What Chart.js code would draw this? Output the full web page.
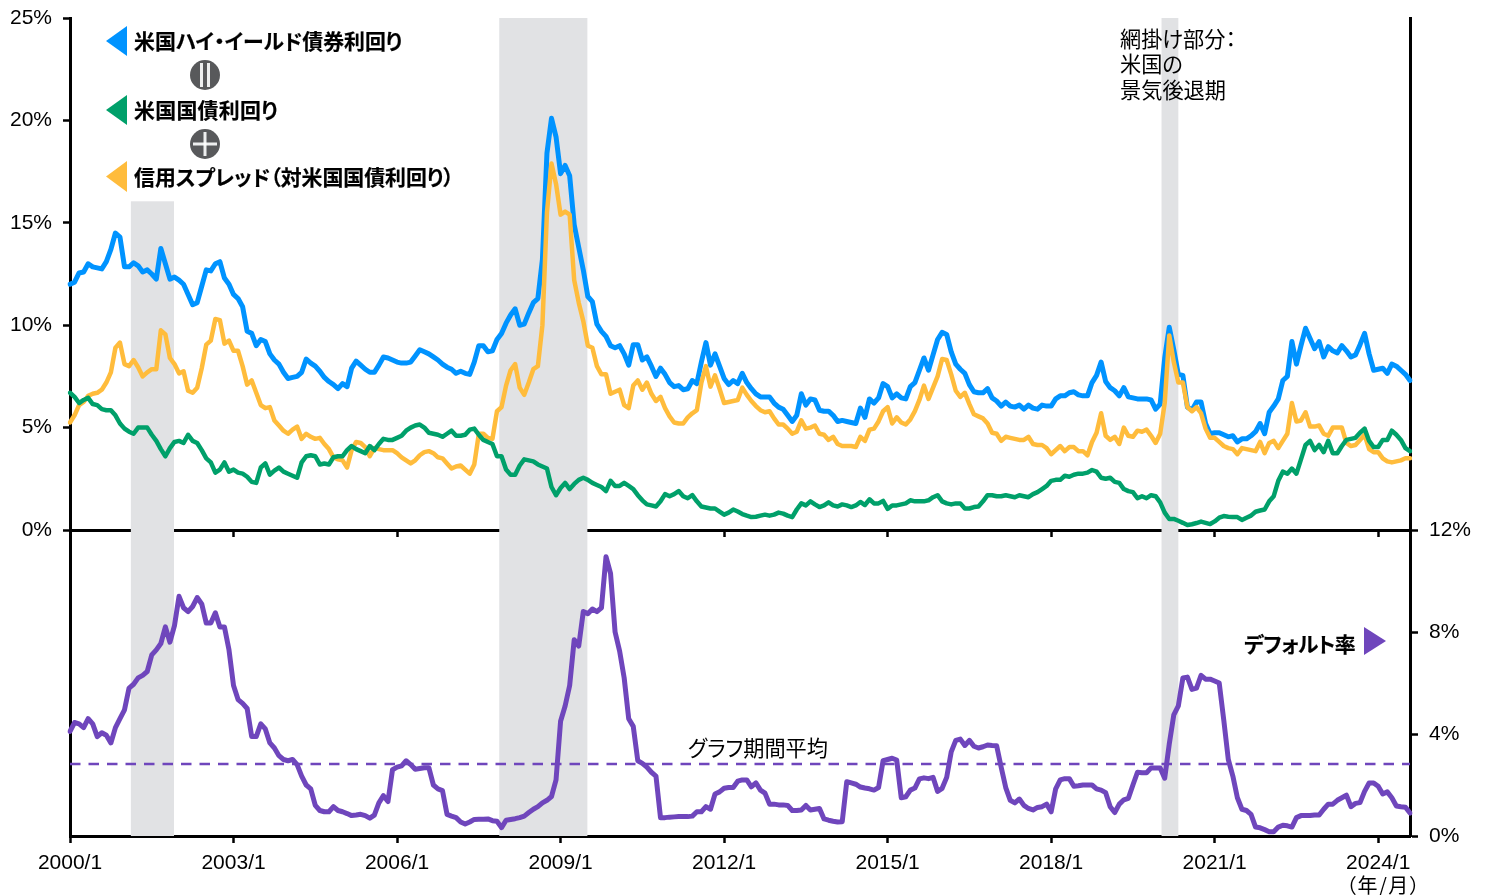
<!DOCTYPE html>
<html lang="ja">
<head>
<meta charset="utf-8">
<title>米国ハイ・イールド債券利回りとデフォルト率</title>
<script src="https://cdn.jsdelivr.net/npm/chart.js@4"></script>
<style>
html,body{margin:0;padding:0;background:#fff;width:1486px;height:895px;overflow:hidden}
canvas{position:absolute;left:0}
#cTop{top:0}
#cBottom{top:510px}
.t{position:absolute;white-space:nowrap;color:#000;font-family:"Noto Sans CJK JP","Liberation Sans",sans-serif;line-height:1;font-feature-settings:"palt"}
.b{font-weight:700;font-size:20.9px;-webkit-text-stroke:.2px #000}
.r{font-weight:400;font-size:21.2px}
svg{position:absolute;left:0;top:0}
</style>
</head>
<body>
<canvas id="cTop" width="1486" height="545"></canvas>
<canvas id="cBottom" width="1486" height="385"></canvas>
<svg width="1486" height="895">
  <polygon points="127,26 127,56 106,41" fill="#0093FF"/>
  <polygon points="127,95 127,125 106,110" fill="#00A06A"/>
  <polygon points="127,161 127,192 106,176.5" fill="#FFBC3C"/>
  <polygon points="1364,627 1364,655 1386,641" fill="#6F46BC"/>
  <circle cx="205" cy="75" r="15" fill="#58595B"/>
  <rect x="200" y="63" width="3" height="24" fill="#fff" opacity=".9"/>
  <rect x="207" y="63" width="3" height="24" fill="#fff" opacity=".9"/>
  <circle cx="205" cy="144" r="15" fill="#58595B"/>
  <rect x="193" y="142.500" width="24" height="3" fill="#fff" opacity=".9"/>
  <rect x="203.500" y="132" width="3" height="24" fill="#fff" opacity=".9"/>
</svg>
<div class="t b" style="left:134px;top:30px">米国ハイ・イールド債券利回り</div>
<div class="t b" style="left:134px;top:99px;letter-spacing:.3px">米国国債利回り</div>
<div class="t b" style="left:134px;top:166px">信用スプレッド（対米国国債利回り）</div>
<div class="t r" style="left:1120px;top:27px">網掛け部分：</div>
<div class="t r" style="left:1120px;top:52px">米国の</div>
<div class="t r" style="left:1120px;top:78px">景気後退期</div>
<div class="t r" style="left:688px;top:736px">グラフ期間平均</div>
<div class="t b" style="left:1244px;top:633px;letter-spacing:-.5px">デフォルト率</div>
<div class="t r" style="left:1346px;top:875px;font-size:20px;letter-spacing:1.5px">（年/月）</div>
<script>
// Monthly categories, 2000/1 to 2024/8
const months = [];
for (let y = 2000; y <= 2024; y++) for (let m = 1; m <= (y === 2024 ? 8 : 12); m++) months.push(y + '/' + m);

const highYield = [
12.0,12.1,12.55,12.6,13.0,12.85,12.8,12.75,13.1,13.7,14.5,14.3,
12.85,12.85,13.05,12.9,12.6,12.7,12.5,12.25,13.75,13.0,12.25,12.35,
12.2,12.0,11.5,11.0,11.1,11.9,12.7,12.65,13.0,13.1,12.3,12.0,
11.5,11.3,10.9,9.7,9.6,9.0,9.3,9.2,8.6,8.3,8.1,7.7,
7.4,7.45,7.5,7.7,8.35,8.15,8.0,7.75,7.45,7.25,7.1,6.9,
7.15,7.0,7.9,8.25,8.05,7.85,7.7,7.7,8.05,8.45,8.4,8.3,
8.2,8.15,8.15,8.2,8.5,8.8,8.7,8.6,8.45,8.3,8.1,7.95,
7.85,7.65,7.75,7.65,7.6,8.2,9.0,9.0,8.7,8.75,9.3,9.6,
10.1,10.5,10.8,10.0,10.05,10.6,11.1,11.3,13.2,18.4,20.1,19.2,
17.4,17.8,17.3,14.9,13.8,12.7,11.4,11.15,10.05,9.7,9.45,9.0,
8.9,9.0,8.6,8.05,9.05,9.05,8.3,8.45,8.0,7.5,7.9,7.6,
7.2,7.0,7.05,6.85,6.9,7.3,7.15,8.2,9.15,8.05,8.6,8.0,
7.4,7.1,7.3,7.15,7.65,7.2,6.9,6.65,6.5,6.5,6.5,6.2,
6.0,5.9,5.6,5.3,5.6,6.65,6.1,6.4,6.35,5.85,5.8,5.8,
5.6,5.3,5.35,5.3,5.25,5.2,5.95,5.5,6.4,6.2,6.45,7.15,
7.0,6.45,6.65,6.45,6.4,7.0,7.2,7.8,8.4,7.8,8.55,9.3,
9.65,9.55,8.7,8.1,7.85,7.65,7.1,6.75,6.7,6.7,6.9,6.45,
6.3,6.05,6.25,6.05,6.0,6.1,5.9,6.1,5.95,5.9,6.1,6.05,
6.05,6.4,6.55,6.55,6.7,6.75,6.6,6.55,6.55,7.2,7.55,8.2,
7.25,6.95,6.8,6.55,6.95,6.5,6.45,6.4,6.4,6.4,6.35,5.9,
6.15,8.4,9.9,8.8,7.6,7.55,6.0,5.85,6.25,6.25,5.2,4.7,
4.75,4.75,4.65,4.55,4.6,4.3,4.45,4.45,4.6,4.8,5.2,4.7,
5.75,6.05,6.4,7.3,7.5,9.2,8.1,9.0,9.85,9.35,8.85,9.2,
8.45,8.95,8.75,8.65,9.0,8.75,8.45,8.55,9.05,9.6,8.6,7.8,
7.85,7.9,7.65,8.1,8.0,7.8,7.6,7.3
];

const treasury = [
6.7,6.5,6.2,6.35,6.45,6.15,6.1,5.9,5.85,5.85,5.6,5.2,
4.95,4.8,4.7,5.0,5.0,5.0,4.65,4.35,3.95,3.6,4.0,4.3,
4.35,4.25,4.65,4.35,4.25,3.9,3.5,3.3,2.8,2.95,3.3,2.85,
2.95,2.8,2.75,2.6,2.35,2.3,3.05,3.25,2.7,2.9,3.05,2.85,
2.75,2.65,2.55,3.3,3.6,3.65,3.6,3.2,3.25,3.2,3.55,3.6,
3.6,3.9,4.1,3.95,3.85,3.75,4.1,3.9,4.2,4.45,4.4,4.4,
4.5,4.6,4.85,5.0,5.1,5.15,5.0,4.75,4.7,4.65,4.55,4.7,
4.85,4.6,4.6,4.65,4.9,4.95,4.65,4.4,4.3,4.2,3.6,3.6,
2.95,2.7,2.7,3.15,3.45,3.4,3.35,3.2,3.1,3.0,2.1,1.7,
2.05,2.3,2.0,2.25,2.45,2.55,2.45,2.3,2.2,2.1,1.9,2.4,
2.15,2.15,2.3,2.15,2.0,1.7,1.45,1.25,1.2,1.15,1.4,1.75,
1.65,1.75,1.9,1.65,1.55,1.7,1.4,1.15,1.1,1.05,1.05,0.9,
0.75,0.85,1.0,0.9,0.78,0.7,0.63,0.65,0.7,0.75,0.7,0.75,
0.85,0.8,0.7,0.63,1.0,1.3,1.2,1.4,1.25,1.12,1.2,1.35,
1.2,1.15,1.25,1.2,1.12,1.2,1.37,1.22,1.5,1.3,1.3,1.42,
1.03,1.2,1.2,1.25,1.3,1.45,1.4,1.4,1.4,1.45,1.6,1.7,
1.4,1.3,1.25,1.3,1.3,1.05,1.05,1.12,1.15,1.4,1.7,1.7,
1.65,1.65,1.7,1.65,1.6,1.7,1.65,1.6,1.75,1.85,2.0,2.15,
2.4,2.45,2.45,2.65,2.6,2.7,2.75,2.75,2.8,2.93,2.85,2.55,
2.5,2.55,2.35,2.3,2.0,1.9,1.85,1.55,1.65,1.55,1.7,1.65,
1.35,0.85,0.54,0.54,0.45,0.35,0.24,0.28,0.34,0.41,0.35,0.29,
0.42,0.6,0.68,0.65,0.63,0.63,0.49,0.6,0.7,0.89,0.95,1.0,
1.4,1.65,2.4,2.85,2.75,3.0,2.75,3.45,4.15,4.35,3.9,4.15,
3.8,4.35,3.75,3.75,4.1,4.4,4.45,4.5,4.75,4.95,4.35,4.05,
4.05,4.4,4.4,4.85,4.65,4.4,4.0,3.85
];

const creditSpread = [
5.25,5.6,6.1,6.25,6.55,6.65,6.7,6.85,7.2,7.7,8.9,9.15,
8.1,8.0,8.3,7.95,7.5,7.7,7.85,7.85,9.75,9.55,8.4,8.1,
7.65,7.75,6.8,6.7,6.95,7.9,9.05,9.25,10.3,10.25,9.1,9.25,
8.75,8.75,8.0,7.1,7.3,6.7,6.1,5.95,6.0,5.35,5.1,4.85,
4.7,4.9,5.05,4.45,4.7,4.55,4.45,4.5,4.2,3.95,3.55,3.45,
3.4,3.05,3.9,4.3,4.25,4.05,3.6,4.0,3.95,3.9,3.9,3.9,
3.75,3.55,3.4,3.25,3.4,3.65,3.8,3.85,3.75,3.55,3.5,3.25,
3.0,3.1,3.15,2.95,2.75,3.2,4.7,4.7,4.5,4.45,5.8,6.0,
7.05,7.8,8.1,6.95,6.6,7.2,7.85,8.0,10.0,15.5,17.9,16.9,
15.4,15.55,15.4,12.2,11.1,10.2,9.0,8.9,8.0,7.6,7.6,6.65,
6.75,6.85,6.1,5.95,7.05,7.3,6.85,7.2,6.65,6.3,6.5,5.95,
5.55,5.25,5.2,5.2,5.5,5.7,5.85,7.2,8.0,7.0,7.55,6.9,
6.2,6.25,6.3,6.35,6.95,6.6,6.3,6.05,5.85,5.75,5.8,5.45,
5.15,5.15,4.95,4.7,4.8,5.35,4.95,5.0,5.1,4.7,4.65,4.4,
4.55,4.2,4.1,4.1,4.1,4.05,4.55,4.35,4.9,4.95,5.3,5.8,
6.0,5.2,5.5,5.25,5.15,5.4,5.8,6.35,7.05,6.4,6.95,7.5,
8.35,8.3,7.6,6.8,6.5,6.7,6.15,5.65,5.55,5.45,5.2,4.75,
4.7,4.35,4.55,4.5,4.45,4.4,4.4,4.55,4.2,4.15,4.15,4.0,
3.7,3.9,4.1,3.85,4.05,4.05,3.85,3.85,3.65,4.3,4.75,5.7,
4.6,4.4,4.55,4.2,5.0,4.6,4.55,4.85,4.8,4.9,4.6,4.25,
4.7,6.2,9.5,8.2,7.2,7.2,6.0,5.8,6.0,5.7,4.95,4.5,
4.5,4.3,4.1,4.0,3.95,3.7,4.0,3.95,3.9,3.85,4.3,3.75,
4.25,4.35,4.0,4.35,4.7,6.2,5.3,5.35,5.75,5.05,5.05,5.1,
4.7,4.6,5.0,5.0,5.0,4.25,4.1,4.15,4.4,4.65,3.95,3.8,
3.8,3.5,3.35,3.3,3.35,3.4,3.5,3.5
];

const defaultRate = [
4.1,4.45,4.4,4.25,4.6,4.4,3.9,4.05,3.95,3.65,4.25,4.6,
4.95,5.8,5.95,6.2,6.3,6.45,7.1,7.3,7.55,8.2,7.6,8.25,
9.4,8.95,8.8,9.0,9.35,9.1,8.35,8.35,8.75,8.2,8.2,7.3,
5.9,5.35,5.2,5.0,3.9,3.9,4.4,4.2,3.65,3.45,3.15,3.0,
2.95,3.0,2.8,2.35,2.0,1.85,1.2,1.0,0.95,0.95,1.15,1.0,
0.95,0.88,0.8,0.82,0.85,0.8,0.7,0.82,1.3,1.58,1.35,2.6,
2.7,2.75,2.95,2.8,2.62,2.65,2.68,2.68,2.0,1.85,1.78,0.85,
0.78,0.72,0.55,0.47,0.55,0.65,0.66,0.66,0.67,0.6,0.58,0.33,
0.62,0.65,0.68,0.72,0.78,0.92,1.05,1.15,1.3,1.4,1.55,2.2,
4.5,5.1,5.9,7.7,7.45,8.8,8.72,8.9,8.8,8.95,10.95,10.3,
8.0,7.25,6.2,4.6,4.3,2.95,2.85,2.7,2.5,2.35,0.72,0.72,
0.74,0.75,0.76,0.76,0.76,0.78,0.95,0.95,1.15,1.05,1.65,1.73,
1.87,1.9,1.9,2.15,2.2,2.2,1.93,2.08,1.8,1.68,1.25,1.25,
1.22,1.22,1.2,1.0,1.0,1.02,1.2,1.02,1.05,1.08,0.67,0.62,
0.58,0.55,0.56,2.13,2.08,2.03,1.92,1.88,1.85,1.8,1.9,2.95,
3.0,3.05,2.98,1.5,1.54,1.8,1.88,2.24,2.28,2.25,2.3,1.75,
1.87,2.3,3.3,3.75,3.8,3.55,3.75,3.52,3.45,3.5,3.57,3.55,
3.54,2.7,1.9,1.4,1.3,1.45,1.2,1.08,1.02,1.12,1.15,1.25,
0.95,1.85,2.2,2.25,2.25,1.95,1.97,2.0,2.0,2.0,1.85,1.8,
1.7,1.15,0.92,1.25,1.42,1.48,2.0,2.5,2.48,2.48,2.67,2.67,
2.67,2.27,3.6,4.75,5.1,6.2,6.23,5.75,5.8,6.3,6.15,6.15,
6.08,6.0,4.55,3.0,2.35,1.5,1.05,1.0,0.85,0.35,0.32,0.25,
0.17,0.17,0.35,0.42,0.4,0.35,0.72,0.8,0.8,0.8,0.82,0.82,
1.05,1.25,1.25,1.4,1.5,1.6,1.15,1.28,1.31,1.75,2.08,2.08,
1.95,1.65,1.73,1.5,1.18,1.15,1.13,0.9
];

const defaultAverage = 2.82;
const averageLine = months.map(() => defaultAverage);

// Recession spans in month-index units; the top of the first band stops below the legend
const recessions = [
  { from: 13.4, to: 22.9, topValue: 16.05 },
  { from: 94.5, to: 113.9, topValue: 25 },
  { from: 240.3, to: 244.0, topValue: 25 }
];
const yearTickEvery = 36;
const leftTicks = [0, 5, 10, 15, 20, 25];
const rightTicks = [0, 4, 8, 12];

const AXIS = '#000';
const FONT = { family: '"Liberation Sans", Arial, sans-serif', size: 21 };

function bandsPlugin(panel) {
  return {
    id: 'bands' + panel,
    beforeDatasetsDraw(chart) {
      const { ctx, chartArea: a, scales } = chart;
      ctx.save();
      ctx.fillStyle = '#E1E2E4';
      recessions.forEach(r => {
        const x0 = scales.x.getPixelForValue(r.from);
        const x1 = scales.x.getPixelForValue(r.to);
        const top = panel === 'top' ? scales.y.getPixelForValue(r.topValue) : a.top;
        ctx.fillRect(x0, top, x1 - x0, a.bottom - top);
      });
      ctx.restore();
    }
  };
}
function line(label, data, color, width, yAxisID, order, extra) {
  return Object.assign({ label, data, borderColor: color, backgroundColor: color, borderWidth: width,
    pointRadius: 0, tension: 0, borderJoinStyle: 'round', borderCapStyle: 'round', yAxisID, order, fill: false }, extra || {});
}
function noPadY(ax, w) { ax.width = w; ax.paddingTop = 0; ax.paddingBottom = 0; }
function xScale(showLabels, height) {
  return {
    type: 'category',
    labels: months,
    offset: false,
    position: 'bottom',
    afterBuildTicks(ax) { ax.ticks = ax.ticks.filter(t => t.value % yearTickEvery === 0); },
    afterFit(ax) { ax.height = height; ax.paddingLeft = 0; ax.paddingRight = 0; },
    border: { color: AXIS, width: 3 },
    grid: { drawOnChartArea: false, drawTicks: true, tickLength: 7, tickWidth: 2.5, tickColor: AXIS },
    ticks: { autoSkip: false, maxRotation: 0, minRotation: 0, display: showLabels, color: '#000', font: FONT, padding: 8 }
  };
}
function common() {
  return { animation: false, responsive: false, devicePixelRatio: 1,
    plugins: { legend: { display: false }, tooltip: { enabled: false } } };
}

new Chart(document.getElementById('cTop'), {
  type: 'line',
  data: { labels: months, datasets: [
    line('米国ハイ・イールド債券利回り', highYield, '#0093FF', 5, 'y', 3),
    line('信用スプレッド（対米国国債利回り）', creditSpread, '#FFBC3C', 4.5, 'y', 2),
    line('米国国債利回り', treasury, '#00A06A', 4.5, 'y', 1)
  ]},
  options: Object.assign(common(), {
    layout: { padding: { top: 18, left: 0, right: 0, bottom: 0 } },
    scales: {
      x: xScale(false, 15),
      y: {
        position: 'left', min: 0, max: 25,
        afterBuildTicks(ax) { ax.ticks = leftTicks.map(v => ({ value: v })); },
        afterFit(ax) { noPadY(ax, 70); },
        border: { color: AXIS, width: 3 },
        grid: { drawOnChartArea: false, tickLength: 7, tickWidth: 2.5, tickColor: AXIS },
        ticks: { color: '#000', font: FONT, padding: 11, callback: v => v + '%' }
      },
      yr: {
        position: 'right', min: 0, max: 25,
        afterFit(ax) { noPadY(ax, 76); },
        border: { color: AXIS, width: 3 },
        grid: { drawOnChartArea: false, drawTicks: false },
        ticks: { display: false }
      }
    }
  }),
  plugins: [bandsPlugin('top')]
});

new Chart(document.getElementById('cBottom'), {
  type: 'line',
  data: { labels: months, datasets: [
    line('デフォルト率', defaultRate, '#6F46BC', 5, 'y', 1),
    line('グラフ期間平均', averageLine, '#6F46BC', 2.5, 'y', 2, { borderDash: [10.5, 8], borderCapStyle: 'butt' })
  ]},
  options: Object.assign(common(), {
    layout: { padding: { top: 20, left: 0, right: 0, bottom: 0 } },
    scales: {
      x: xScale(true, 59),
      y: {
        position: 'right', min: 0, max: 12,
        afterBuildTicks(ax) { ax.ticks = rightTicks.map(v => ({ value: v })); },
        afterFit(ax) { noPadY(ax, 76); },
        border: { color: AXIS, width: 3 },
        grid: { drawOnChartArea: false, tickLength: 8, tickWidth: 2.5, tickColor: AXIS },
        ticks: { color: '#000', font: FONT, padding: 11, callback: v => v + '%' }
      },
      yl: {
        position: 'left', min: 0, max: 12,
        afterFit(ax) { noPadY(ax, 70); },
        border: { color: AXIS, width: 3 },
        grid: { drawOnChartArea: false, drawTicks: false },
        ticks: { display: false }
      }
    }
  }),
  plugins: [bandsPlugin('bottom')]
});
</script>
</body>
</html>
